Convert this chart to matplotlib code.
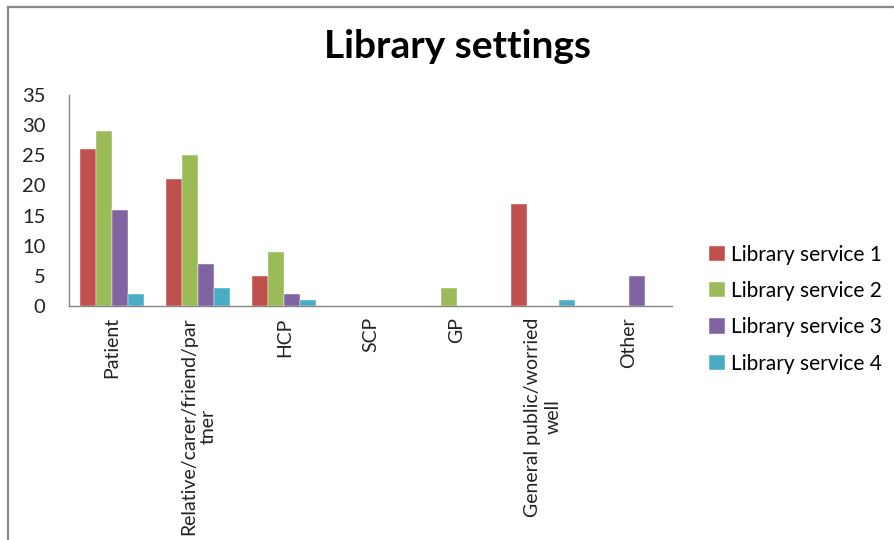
import numpy as np
import matplotlib
matplotlib.use("Agg")
import matplotlib.pyplot as plt
from matplotlib.lines import Line2D

plt.rcParams['font.family'] = ['Lato', 'DejaVu Sans']

# Chart data
categories = ['Patient', 'Relative/carer/friend/par\ntner', 'HCP', 'SCP', 'GP',
              'General public/worried\nwell', 'Other']
series_names = ['Library service 1', 'Library service 2', 'Library service 3', 'Library service 4']
service_1 = [26, 21, 5, 0, 0, 17, 0]
service_2 = [29, 25, 9, 0, 3, 0, 0]
service_3 = [16, 7, 2, 0, 0, 0, 5]
service_4 = [2, 3, 1, 0, 0, 1, 0]
colors = ['#C0504D', '#9BBB59', '#8064A2', '#4BACC6']

fig = plt.figure(figsize=(8.94, 5.4), dpi=100)
ax = fig.add_axes([0.0772, 0.4333, 0.6745, 0.3908])

x = np.arange(len(categories))
bar_w = 0.186
all_series = [service_1, service_2, service_3, service_4]
for i, (vals, name, col) in enumerate(zip(all_series, series_names, colors)):
    offs = (i - 1.5) * bar_w
    ax.bar(x + offs, vals, width=bar_w, color=col, label=name,
           edgecolor='white', linewidth=0.3)

ax.set_xlim(-0.5, len(categories) - 0.5)
ax.set_ylim(0, 35)
ax.set_yticks(range(0, 36, 5))
ax.set_xticks(x)
ax.set_xticklabels(categories, rotation=90, ha='center', va='top',
                   multialignment='center', fontsize=14, color='#222222')
ax.tick_params(axis='y', labelsize=14.5, length=0, pad=17, labelcolor='#222222')
ax.tick_params(axis='x', length=0, pad=8)

for s in ['top', 'right']:
    ax.spines[s].set_visible(False)
for s in ['left', 'bottom']:
    ax.spines[s].set_color('#868686')
    ax.spines[s].set_linewidth(1.0)

fig.text(0.512, 0.913, 'Library settings', ha='center', va='center',
         fontsize=28, fontweight='bold', color='black')

leg = ax.legend(loc='upper left', bbox_to_anchor=(0.784, 0.562),
                bbox_transform=fig.transFigure, frameon=False, fontsize=15,
                handlelength=0.75, handleheight=0.75, labelspacing=0.78,
                handletextpad=0.3, borderaxespad=0)

# chart border (only top and left edges visible in the crop)
fig.add_artist(Line2D([0.0095, 1.0], [0.987, 0.987], transform=fig.transFigure,
                      color='#888888', linewidth=1.6))
fig.add_artist(Line2D([0.0095, 0.0095], [0.0, 0.987], transform=fig.transFigure,
                      color='#888888', linewidth=1.6))

fig.savefig('out.png', dpi=100)
